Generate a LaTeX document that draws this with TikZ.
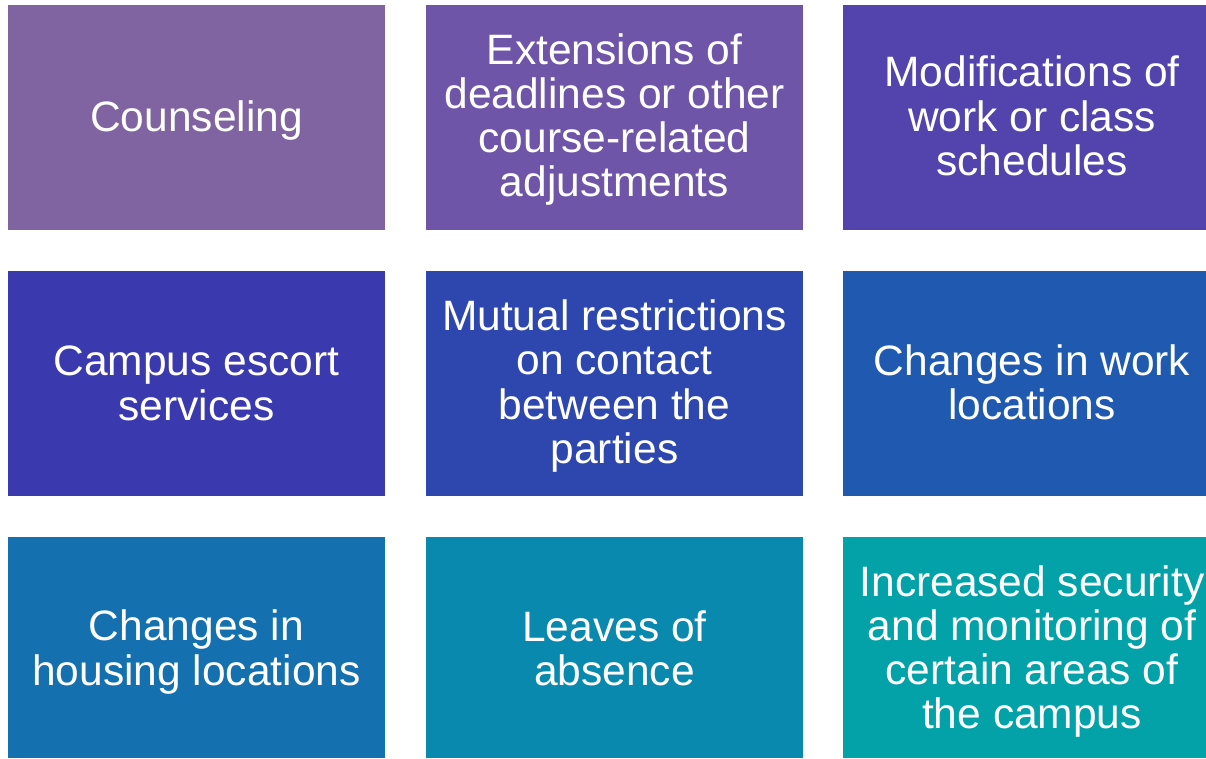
\documentclass[tikz,border=0pt]{standalone}
\usepackage{fontspec}
\setmainfont{Liberation Sans}
\definecolor{c1}{HTML}{8064A2}
\definecolor{c2}{HTML}{6E55A8}
\definecolor{c3}{HTML}{5244AC}
\definecolor{c4}{HTML}{3A3AAE}
\definecolor{c5}{HTML}{2D47AF}
\definecolor{c6}{HTML}{1F5AB0}
\definecolor{c7}{HTML}{1470AF}
\definecolor{c8}{HTML}{0A89AE}
\definecolor{c9}{HTML}{02A2A8}
\tikzset{
  tile/.style={draw=none, text=white, align=center,
    font=\fontsize{42.5}{44.3}\selectfont, inner sep=0pt}
}
\begin{document}
\begin{tikzpicture}[x=1pt,y=-1pt]
\useasboundingbox (0,0) rectangle (1206,758);
\fill[white] (0,0) rectangle (1206,758);
\path[fill=c1] (8,5) rectangle (385,230);
\path[fill=c2] (426,5) rectangle (803,230);
\path[fill=c3] (843,5) rectangle (1206,230);
\path[fill=c4] (8,271) rectangle (385,496);
\path[fill=c5] (426,271) rectangle (803,496);
\path[fill=c6] (843,271) rectangle (1206,496);
\path[fill=c7] (8,537) rectangle (385,758);
\path[fill=c8] (426,537) rectangle (803,758);
\path[fill=c9] (843,537) rectangle (1206,758);
\node[tile] (n1) at (196.5,121) {Counseling};
\node[tile] (n2) at (614.5,119.5) {Extensions of\\deadlines or other\\course-related\\adjustments};
\node[tile] (n3) at (1032,116) {Modifications of\\work or class\\schedules};
\node[tile] (n4) at (196.5,383.5) {Campus escort\\services};
\node[tile] (n5) at (614.5,386) {Mutual restrictions\\on contact\\between the\\parties};
\node[tile] (n6) at (1032,382.5) {Changes in work\\locations};
\node[tile] (n7) at (196.5,652) {Changes in\\housing locations};
\node[tile] (n8) at (614.5,648.5) {Leaves of\\absence};
\node[tile] (n9) at (1032,651.5) {Increased security\\and monitoring of\\certain areas of\\the campus};
\end{tikzpicture}
\end{document}
